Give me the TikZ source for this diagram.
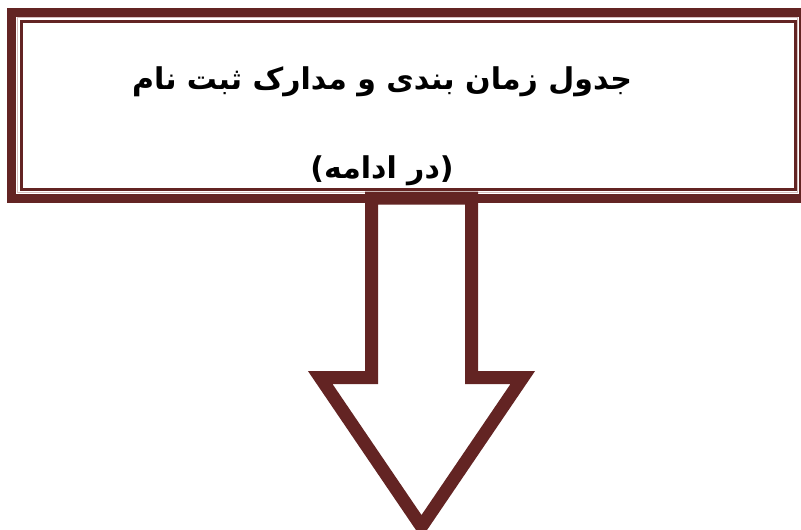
\documentclass[tikz,border=0pt]{standalone}
\usepackage{fontspec}
\newfontfamily\arabicfont[Script=Arabic]{DejaVu Sans}
\TeXXeTstate=1
\definecolor{maroon}{RGB}{99,36,35}
\definecolor{palerose}{RGB}{214,190,190}
\tikzstyle{edge}=[line join=miter]
\tikzstyle{heading}=[font=\arabicfont\bfseries\fontsize{30}{34}\selectfont,inner sep=0pt]

\begin{document}
\begin{tikzpicture}[x=1pt,y=-1pt]
% page of 801 x 530
	\useasboundingbox (0,0) rectangle (801,530);
	\clip (0,0) rectangle (801,530);
	\newcommand\shaftw{100} %width of the arrow shaft
	\newcommand\headw{202.6} %width of the arrow head
% framed box, thick outer line then thin inner lines
	\coordinate (FTL) at (11.5,12) ; %% FTL is the top left of the frame
	\draw[edge,maroon,line width=9pt] (FTL) rectangle ++(792,186.5) coordinate (FBR);
	\draw[edge,palerose,line width=1pt] (17.5,17.5) rectangle (797.5,192.5);
	\draw[edge,maroon,line width=3pt] (21.5,21.5) rectangle (795,189.5);
	\node[heading] (title) at (382,82) {\beginR جدول زمان بندی و مدارک ثبت نام\endR};
	\node[heading] (cont) at (382,171) {\beginR(در ادامه)\endR};
% arrow pointing down
	\coordinate (AT) at (421.5,198) ; %% AT is the middle of the arrow top
	\draw[edge,maroon,line width=13pt,fill=white] (AT) ++(-0.5*\shaftw,0) coordinate (ATL) -- ++(0,179.5) coordinate (SL) -- ++(-0.5*\headw+0.5*\shaftw,0) coordinate (HL) -- (421.5,526.6) coordinate (tip) -- ++(101.3,-149.1) coordinate (HR) -- ++(-0.5*\headw+0.5*\shaftw,0) coordinate (SR) -- ++(0,-179.5) coordinate (ATR) -- cycle;
\end{tikzpicture}
\end{document}
